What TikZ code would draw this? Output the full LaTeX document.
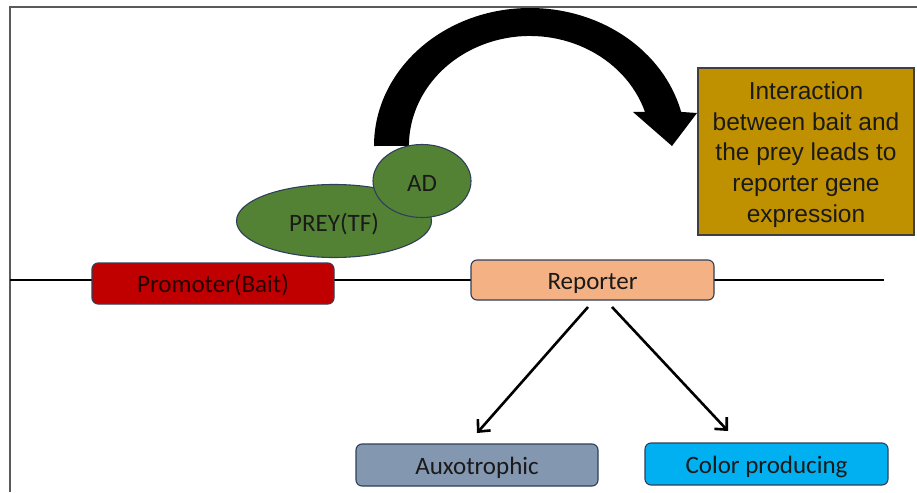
\documentclass[tikz,border=0pt]{standalone}
\usepackage{fontspec}
\setmainfont{Carlito}
\newfontfamily\arialfont{Liberation Sans}
\usetikzlibrary{arrows.meta,calc,shapes.geometric}
\definecolor{frameg}{HTML}{5A5A5A}
\definecolor{promred}{HTML}{C00000}
\definecolor{reppeach}{HTML}{F4B183}
\definecolor{auxblue}{HTML}{8497B0}
\definecolor{colcyan}{HTML}{00B0F0}
\definecolor{gold}{HTML}{BF9000}
\definecolor{leaf}{HTML}{548235}
\definecolor{edgeblue}{HTML}{2F3F5A}
\definecolor{txt}{HTML}{1A1A1A}
\tikzset{
  gbox/.style={draw=edgeblue, line width=1.1pt, rounded corners=6pt, inner sep=0pt,
    font=\fontsize{25}{28}\selectfont, text=txt, text height=22pt, text depth=4pt},
  blob/.style={ellipse, draw=edgeblue, line width=1.1pt, fill=leaf, inner sep=0pt,
    font=\fontsize{25}{28}\selectfont, text=txt, text height=24pt, text depth=4pt},
  rarrow/.style={line width=2.6pt, -{Straight Barb[length=9pt,width=17pt,line width=2.6pt]}},
}
\begin{document}
\begin{tikzpicture}[x=1pt,y=-1pt]
\useasboundingbox (0,0) rectangle (917,492);
% frame
\draw[frameg, line width=2pt] (10,492) -- (10,7) -- (917,7);
% DNA line
\coordinate (lineL) at (10,280);
\coordinate (lineR) at (884,280);
\draw[line width=1.8pt] (lineL) -- (lineR);
% curved arrow
\fill[black] (374,146)
  arc[start angle=180, end angle=345.7, x radius=156, y radius=138]
  -- (697,113) -- (672,146) -- (633,112) -- (645,112)
  arc[start angle=342, end angle=180, x radius=121, y radius=110]
  -- cycle;
% boxes
\node[gbox, fill=promred, minimum width=242pt, minimum height=41pt, text=black!85!red] (prom) at (213,283.5) {Promoter(Bait)};
\node[gbox, fill=reppeach, minimum width=243pt, minimum height=40pt] (rep) at (592.5,280) {Reporter};
\node[gbox, fill=auxblue, minimum width=242pt, minimum height=42pt] (aux) at (477,465) {Auxotrophic};
\node[gbox, fill=colcyan, minimum width=243pt, minimum height=42pt] (col) at (766.5,464) {Color producing};
% ellipses
\node[blob, minimum width=195pt, minimum height=73pt] (prey) at (334,221) {PREY(TF)};
\node[blob, minimum width=98pt, minimum height=73pt] (ad) at (422,181) {AD};
% gold box
\node[draw=frameg!70!black, line width=1.2pt, fill=gold, minimum width=216pt, minimum height=167pt,
  label={[align=center, text=txt, font=\arialfont\fontsize{24.5}{30.7}\selectfont, yshift=-3pt]center:{Interaction\\between bait and\\the prey leads to\\reporter gene\\expression}}]
  (info) at (806,151.5) {};
% reporter arrows
\coordinate (s1) at (588,307);
\coordinate (s2) at (612,307);
\coordinate (e1) at (477,433);
\coordinate (e2) at (728,431);
\draw[rarrow] (s1) -- (e1);
\draw[rarrow] (s2) -- (e2);
\end{tikzpicture}
\end{document}
